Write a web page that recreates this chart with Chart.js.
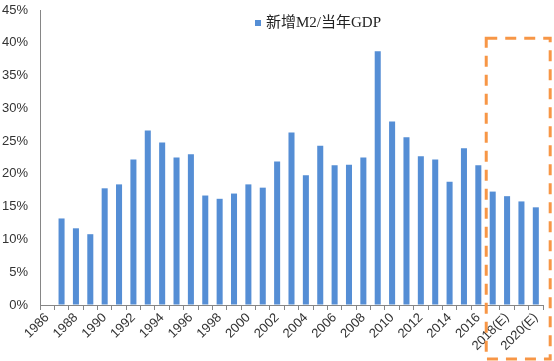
<!DOCTYPE html>
<html>
<head>
<meta charset="utf-8">
<script src="https://cdn.jsdelivr.net/npm/chart.js@4"></script>
<style>
  body { margin: 0; background: #fff; }
  #wrap { width: 554px; height: 361px; }
</style>
</head>
<body>
<div id="wrap"><canvas id="myChart" width="554" height="361"></canvas></div>
<script>
// years on the x axis, last four are estimates
const years = ['1986', '1987', '1988', '1989', '1990', '1991', '1992', '1993', '1994', '1995',
  '1996', '1997', '1998', '1999', '2000', '2001', '2002', '2003', '2004', '2005',
  '2006', '2007', '2008', '2009', '2010', '2011', '2012', '2013', '2014', '2015',
  '2016', '2017(E)', '2018(E)', '2019(E)', '2020(E)'];

// 新增M2 / 当年GDP, in percent
const m2Ratio = [null, 13.2, 11.7, 10.8, 17.8, 18.4, 22.2, 26.6, 24.8, 22.5,
  23.0, 16.7, 16.2, 17.0, 18.4, 17.9, 21.9, 26.3, 19.8, 24.3,
  21.3, 21.4, 22.5, 38.7, 28.0, 25.6, 22.7, 22.2, 18.8, 23.9,
  21.3, 17.3, 16.6, 15.8, 14.9];

const seriesName = '新增M2/当年GDP';
const yMax = 45;
const yStep = 5;
const firstEstimate = '2017(E)';
const boxTopValue = 40.7;

// draws the legend by hand (it sits right of centre in the original)
const legendPlugin = {
  id: 'ownLegend',
  afterDraw(chart) {
    const ctx = chart.ctx;
    ctx.save();
    ctx.fillStyle = '#558ED5';
    ctx.fillRect(255, 20, 6, 6);
    ctx.fillStyle = '#222';
    ctx.font = '15px "Liberation Serif", "Noto Sans CJK SC", serif';
    ctx.textBaseline = 'middle';
    ctx.textAlign = 'left';
    ctx.fillText(seriesName, 266, 23);
    ctx.restore();
  }
};

// orange dashed box round the estimated years
const estimateBox = {
  id: 'estimateBox',
  afterDraw(chart) {
    const x = chart.scales.x;
    const y = chart.scales.y;
    const i0 = years.indexOf(firstEstimate);
    const iLast = years.length - 1;
    const w = x.getPixelForValue(1) - x.getPixelForValue(0);
    const left = x.getPixelForValue(i0) - w * 0.45;
    const right = x.getPixelForValue(iLast) + w;
    const top = y.getPixelForValue(boxTopValue);
    const bottom = chart.height - 2;
    const ctx = chart.ctx;
    ctx.save();
    ctx.strokeStyle = '#F79646';
    ctx.lineWidth = 3;
    ctx.setLineDash([11, 8]);
    ctx.strokeRect(left, top, right - left, bottom - top);
    ctx.restore();
  }
};

const ctx = document.getElementById('myChart');

new Chart(ctx, {
  type: 'bar',
  data: {
    labels: years,
    datasets: [{
      label: seriesName,
      data: m2Ratio,
      backgroundColor: '#558ED5',
      barPercentage: 0.42,
      categoryPercentage: 1
    }]
  },
  options: {
    responsive: false,
    animation: false,
    layout: { padding: { top: 10, right: 11, left: 0, bottom: 0 } },
    plugins: {
      legend: { display: false },
      tooltip: { enabled: false }
    },
    scales: {
      x: {
        offset: true,
        grid: {
          offset: true,
          drawOnChartArea: false,
          drawTicks: true,
          tickLength: 5,
          color: '#868686'
        },
        border: { color: '#868686', width: 1 },
        ticks: {
          autoSkip: false,
          maxRotation: 45,
          minRotation: 45,
          padding: 0,
          color: '#333',
          font: { family: '"Liberation Sans", Arial', size: 13 },
          // only every other year gets a label
          callback: function (value, index) {
            return index % 2 === 0 ? this.getLabelForValue(value) : '';
          }
        },
        afterFit: function (scale) {
          scale.height = 56;
          scale.paddingTop = 0;
        }
      },
      y: {
        min: 0,
        max: yMax,
        grid: { drawOnChartArea: false, drawTicks: false },
        border: { color: '#868686', width: 1 },
        ticks: {
          stepSize: yStep,
          padding: 12,
          color: '#333',
          font: { family: '"Liberation Sans", Arial', size: 13 },
          callback: v => v + '%'
        },
        afterFit: function (scale) {
          scale.width = 40;
          scale.paddingTop = 0;
          scale.paddingBottom = 0;
        }
      }
    }
  },
  plugins: [legendPlugin, estimateBox]
});
</script>
</body>
</html>
